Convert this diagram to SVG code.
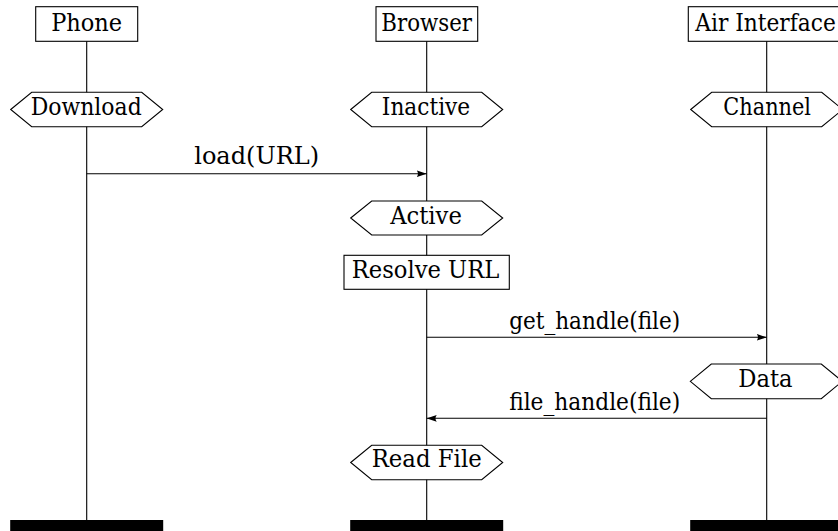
<svg xmlns="http://www.w3.org/2000/svg" width="838" height="531" viewBox="0 0 838 531">
  <style>
    .life { stroke: #000; stroke-width: 1.1; fill: none; }
    .box { fill: #fff; stroke: #000; stroke-width: 1.1; }
    .state { fill: #fff; stroke: #000; stroke-width: 1.1; }
    .msg { stroke: #000; stroke-width: 1.1; fill: none; }
    .end { fill: #000; }
    .lbl { font-family: 'DejaVu Serif', serif; font-size: 24px; fill: #000; text-anchor: middle; }
  </style>
  <defs>
    <marker id="arrow" viewBox="0 0 10 8" refX="10" refY="4" markerWidth="10" markerHeight="8" markerUnits="userSpaceOnUse" orient="auto">
      <path d="M0,0.6 L10,4 L0,7.4 Q2.5,4 0,0.6 Z" fill="#000"/>
    </marker>
  </defs>
  <rect width="838" height="531" fill="#fff"/>

  <!-- lifelines and message arrows -->
  <g id="connectors">
    <line class="life" x1="86.7" y1="41" x2="86.7" y2="520"/>
    <line class="life" x1="426.7" y1="41" x2="426.7" y2="520"/>
    <line class="life" x1="766.7" y1="41" x2="766.7" y2="520"/>

    <line class="msg" x1="86.7" y1="173.7" x2="426.7" y2="173.7" marker-end="url(#arrow)"/>
    <text class="lbl" x="256.7" y="164" textLength="125" lengthAdjust="spacingAndGlyphs">load(URL)</text>

    <line class="msg" x1="426.7" y1="337.3" x2="766.7" y2="337.3" marker-end="url(#arrow)"/>
    <text class="lbl" x="594.7" y="329" textLength="171" lengthAdjust="spacingAndGlyphs">get_handle(file)</text>

    <line class="msg" x1="766.7" y1="418.3" x2="426.7" y2="418.3" marker-end="url(#arrow)"/>
    <text class="lbl" x="594.7" y="410" textLength="171" lengthAdjust="spacingAndGlyphs">file_handle(file)</text>
  </g>

  <!-- Phone -->
  <g id="phone">
    <rect class="box" x="35.7" y="6.7" width="102" height="34.6"/>
    <text class="lbl" x="86.7" y="31" textLength="71" lengthAdjust="spacingAndGlyphs">Phone</text>
  </g>
  <g id="phone-download">
    <polygon class="state" points="10.7,109.5 31.7,92.3 141.7,92.3 162.7,109.5 141.7,126.7 31.7,126.7"/>
    <text class="lbl" x="86.2" y="115" textLength="111" lengthAdjust="spacingAndGlyphs">Download</text>
  </g>
  <g id="phone-end">
    <rect class="end" x="10.2" y="520" width="153" height="11"/>
  </g>

  <!-- Browser -->
  <g id="browser">
    <rect class="box" x="376" y="6.7" width="101.7" height="34.6"/>
    <text class="lbl" x="426.7" y="31" textLength="90.7" lengthAdjust="spacingAndGlyphs">Browser</text>
  </g>
  <g id="browser-inactive">
    <polygon class="state" points="350.7,109.5 371.7,92.3 481.7,92.3 502.7,109.5 481.7,126.7 371.7,126.7"/>
    <text class="lbl" x="426" y="115" textLength="88.3" lengthAdjust="spacingAndGlyphs">Inactive</text>
  </g>
  <g id="browser-active">
    <polygon class="state" points="350.7,218 371.7,201 481.7,201 502.7,218 481.7,235 371.7,235"/>
    <text class="lbl" x="426" y="224" textLength="71.7" lengthAdjust="spacingAndGlyphs">Active</text>
  </g>
  <g id="resolve-url">
    <rect class="box" x="344" y="255.3" width="165.3" height="34"/>
    <text class="lbl" x="425.5" y="278.3" textLength="147.7" lengthAdjust="spacingAndGlyphs">Resolve URL</text>
  </g>
  <g id="browser-read-file">
    <polygon class="state" points="350.7,462.5 371.7,445.3 481.7,445.3 502.7,462.5 481.7,479.7 371.7,479.7"/>
    <text class="lbl" x="426.7" y="467.3" textLength="110" lengthAdjust="spacingAndGlyphs">Read File</text>
  </g>
  <g id="browser-end">
    <rect class="end" x="350.2" y="520" width="153" height="11"/>
  </g>

  <!-- Air Interface (box runs past the right edge) -->
  <g id="air-interface">
    <rect class="box" x="688.3" y="6.7" width="156.8" height="34.6"/>
    <text class="lbl" x="765.5" y="31" textLength="140.5" lengthAdjust="spacingAndGlyphs">Air Interface</text>
  </g>
  <g id="air-channel">
    <polygon class="state" points="690.7,109.5 711.7,92.3 821.7,92.3 842.7,109.5 821.7,126.7 711.7,126.7"/>
    <text class="lbl" x="767.2" y="115" textLength="87.7" lengthAdjust="spacingAndGlyphs">Channel</text>
  </g>
  <g id="air-data">
    <polygon class="state" points="690.3,381.3 711.3,364 821.3,364 842.3,381.3 821.3,398.7 711.3,398.7"/>
    <text class="lbl" x="765.5" y="387.3" textLength="54.3" lengthAdjust="spacingAndGlyphs">Data</text>
  </g>
  <g id="air-end">
    <rect class="end" x="690.2" y="520" width="153" height="11"/>
  </g>
</svg>
